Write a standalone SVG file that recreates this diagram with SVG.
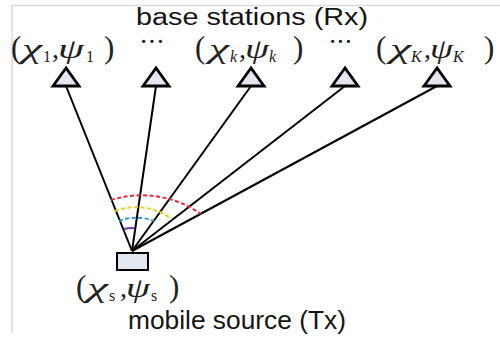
<svg xmlns="http://www.w3.org/2000/svg" width="500" height="339" viewBox="0 0 500 339">
<style>
.lbl{font-family:"Liberation Sans",Arial,sans-serif;fill:#151515}
.m{font-family:"Liberation Serif","Times New Roman",serif;fill:#222;font-style:italic;font-size:28px}
.up{font-style:normal}
.p{font-style:normal;font-size:31px}
.sb{font-size:16px}
.tri{fill:#e6e6f2;stroke:#000;stroke-width:2.8;stroke-linejoin:miter}
.ln{stroke:#000;stroke-width:2;fill:none}
.arc{fill:none;stroke-width:2;stroke-dasharray:4 2.5}
</style>
<rect width="500" height="339" fill="#fff"/>
<g id="frame" stroke="#dcdcdc" stroke-width="1.5" fill="none">
<path d="M12,333 V5.5 H500"/>
</g>
<g id="title"><text class="lbl" x="136" y="25" font-size="23" textLength="232" lengthAdjust="spacingAndGlyphs">base stations (Rx)</text></g>
<g id="connectors">
<line class="ln" x1="66" y1="86" x2="132" y2="251"/>
<line class="ln" x1="156" y1="86" x2="132" y2="251"/>
<line class="ln" x1="251" y1="86" x2="132" y2="251"/>
<line class="ln" x1="345" y1="86" x2="132" y2="251"/>
<line class="ln" x1="437" y1="86" x2="132" y2="251"/>
</g>
<g id="arcs">
<path class="arc" stroke="#e6283e" d="M111,200 A103,103 0 0 1 201,214"/>
<path class="arc" stroke="#f2cf1e" d="M115,211 A60,60 0 0 1 172,219"/>
<path class="arc" stroke="#2e92d2" d="M119,221 A48,48 0 0 1 154,221"/>
<path fill="none" stroke="#7a3c9e" stroke-width="2" d="M124,229 A30,30 0 0 1 134,228"/>
</g>
<g id="bs1"><polygon class="tri" points="66,68 53,86 79,86"/>
<text class="m" y="58"><tspan class="p" x="11">(</tspan><tspan x="22" textLength="20" lengthAdjust="spacingAndGlyphs">χ</tspan><tspan class="up sb" x="43" dy="4">1</tspan><tspan class="up" x="52" dy="-4">,</tspan><tspan x="58" textLength="26" lengthAdjust="spacingAndGlyphs">ψ</tspan><tspan class="up sb" x="86" dy="4">1</tspan><tspan class="p" x="104" dy="-4">)</tspan></text></g>
<g id="dots1"><text class="m up" x="139" y="51" font-size="14" textLength="26" lengthAdjust="spacing">···</text></g>
<g id="bs2"><polygon class="tri" points="156,68 143,86 169,86"/></g>
<g id="bsk"><polygon class="tri" points="251,68 238,86 264,86"/>
<text class="m" y="58"><tspan class="p" x="195">(</tspan><tspan x="209" textLength="20" lengthAdjust="spacingAndGlyphs">χ</tspan><tspan class="sb" x="230" dy="4">k</tspan><tspan class="up" x="239" dy="-4">,</tspan><tspan x="245" textLength="24" lengthAdjust="spacingAndGlyphs">ψ</tspan><tspan class="sb" x="269" dy="4">k</tspan><tspan class="p" x="293" dy="-4">)</tspan></text></g>
<g id="dots2"><text class="m up" x="328" y="51" font-size="14" textLength="25" lengthAdjust="spacing">···</text></g>
<g id="bs4"><polygon class="tri" points="345,68 332,86 358,86"/></g>
<g id="bsK"><polygon class="tri" points="437,68 424,86 450,86"/>
<text class="m" y="58"><tspan class="p" x="376">(</tspan><tspan x="390" textLength="21" lengthAdjust="spacingAndGlyphs">χ</tspan><tspan class="sb" x="411" dy="4">K</tspan><tspan class="up" x="424" dy="-4">,</tspan><tspan x="430" textLength="23" lengthAdjust="spacingAndGlyphs">ψ</tspan><tspan class="sb" x="453" dy="4">K</tspan><tspan class="p" x="484" dy="-4">)</tspan></text></g>
<g id="source"><rect x="117" y="253" width="31" height="17" fill="#e4e8f0" stroke="#000" stroke-width="2"/>
<text class="m" y="297"><tspan class="p" x="76">(</tspan><tspan x="87" textLength="21" lengthAdjust="spacingAndGlyphs">χ</tspan><tspan class="up sb" x="109" dy="4">s</tspan><tspan class="up" x="120" dy="-4">,</tspan><tspan x="126" textLength="24" lengthAdjust="spacingAndGlyphs">ψ</tspan><tspan class="up sb" x="151" dy="4">s</tspan><tspan class="p" x="169" dy="-4">)</tspan></text>
<text class="lbl" x="128" y="329" font-size="25" textLength="218" lengthAdjust="spacingAndGlyphs">mobile source (Tx)</text></g>
</svg>
